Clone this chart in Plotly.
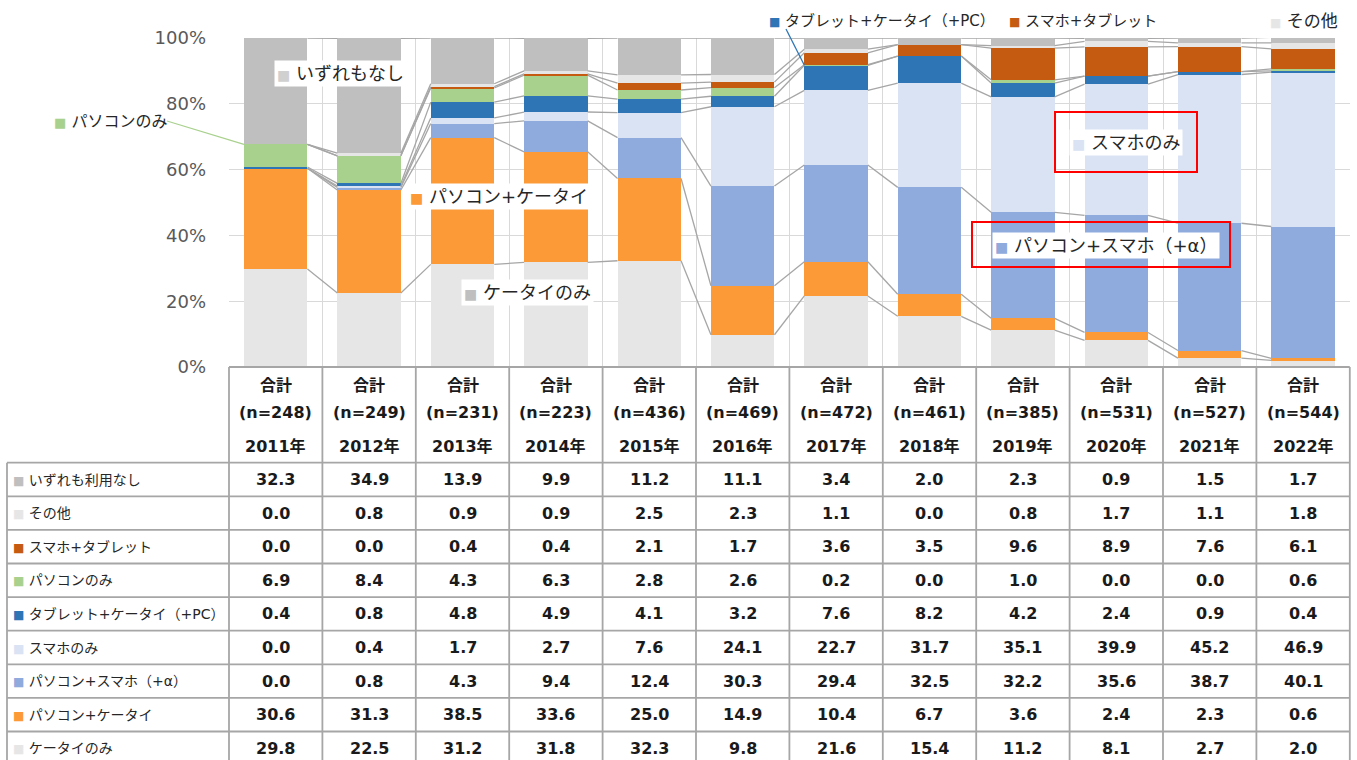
import plotly.graph_objects as go

# ---------------- data ----------------
years = ["2011年", "2012年", "2013年", "2014年", "2015年", "2016年",
         "2017年", "2018年", "2019年", "2020年", "2021年", "2022年"]
n_values = [248, 249, 231, 223, 436, 469, 472, 461, 385, 531, 527, 544]

none_used = [32.3, 34.9, 13.9, 9.9, 11.2, 11.1, 3.4, 2.0, 2.3, 0.9, 1.5, 1.7]
other = [0.0, 0.8, 0.9, 0.9, 2.5, 2.3, 1.1, 0.0, 0.8, 1.7, 1.1, 1.8]
smartphone_tablet = [0.0, 0.0, 0.4, 0.4, 2.1, 1.7, 3.6, 3.5, 9.6, 8.9, 7.6, 6.1]
pc_only = [6.9, 8.4, 4.3, 6.3, 2.8, 2.6, 0.2, 0.0, 1.0, 0.0, 0.0, 0.6]
tablet_mobile_pc = [0.4, 0.8, 4.8, 4.9, 4.1, 3.2, 7.6, 8.2, 4.2, 2.4, 0.9, 0.4]
smartphone_only = [0.0, 0.4, 1.7, 2.7, 7.6, 24.1, 22.7, 31.7, 35.1, 39.9, 45.2, 46.9]
pc_smartphone = [0.0, 0.8, 4.3, 9.4, 12.4, 30.3, 29.4, 32.5, 32.2, 35.6, 38.7, 40.1]
pc_mobile = [30.6, 31.3, 38.5, 33.6, 25.0, 14.9, 10.4, 6.7, 3.6, 2.4, 2.3, 0.6]
mobile_only = [29.8, 22.5, 31.2, 31.8, 32.3, 9.8, 21.6, 15.4, 11.2, 8.1, 2.7, 2.0]

# stacking order: bottom -> top
series = [
    ("ケータイのみ", mobile_only, "#e7e6e6"),
    ("パソコン+ケータイ", pc_mobile, "#fd9a38"),
    ("パソコン+スマホ（+α）", pc_smartphone, "#8faadc"),
    ("スマホのみ", smartphone_only, "#dae3f3"),
    ("タブレット+ケータイ（+PC）", tablet_mobile_pc, "#2e75b6"),
    ("パソコンのみ", pc_only, "#a9d18e"),
    ("スマホ+タブレット", smartphone_tablet, "#c55a11"),
    ("その他", other, "#e7e6e6"),
    ("いずれも利用なし", none_used, "#bfbfbf"),
]
# table rows: top -> bottom
table_rows = list(reversed(series))

# ---------------- layout helpers ----------------
W, H = 1357, 760
X0, CW = 229.0, 93.4          # plot left edge (px), column width (px)
Y0, YS = 367.0, 3.29          # 0% baseline (px), px per percent
NCOL = len(years)
BAR_W = 0.68

FONT = "DejaVu Sans, Noto Sans CJK JP"
LINE_C = "#a6a6a6"


def px_x(px):
    return px / W


def px_y(py):
    return 1 - py / H


def col_x(i):
    return px_x(X0 + (i + 0.5) * CW)


def dat_x(x):
    return px_x(X0 + (x + 0.5) * CW)


def dat_y(v):
    return px_y(Y0 - v * YS)


def sq(color, size=12):
    return f'<span style="color:{color};font-size:{size}px">■</span> '


fig = go.Figure()

xs = list(range(NCOL))
cum = [0.0] * NCOL
tops = []
for name, vals, color in series:
    fig.add_trace(go.Bar(
        x=xs, y=vals, name=name, width=BAR_W,
        marker=dict(color=color, line=dict(width=0)),
        showlegend=False, hoverinfo="name+y",
    ))
    cum = [c + v for c, v in zip(cum, vals)]
    tops.append(list(cum))

# series lines between bars
for t in tops:
    lx, ly = [], []
    for i in range(NCOL - 1):
        lx += [i + BAR_W / 2, i + 1 - BAR_W / 2, None]
        ly += [t[i], t[i + 1], None]
    fig.add_trace(go.Scatter(x=lx, y=ly, mode="lines",
                             line=dict(color=LINE_C, width=1.3),
                             showlegend=False, hoverinfo="skip"))

shapes = []
annotations = []

# ---------------- table ----------------
x_right = X0 + NCOL * CW
hdr_bottom = 462.7
row_h = 33.6
nrows = len(table_rows)

shapes.append(dict(type="line", xref="paper", yref="paper",
                   x0=px_x(X0), x1=px_x(x_right), y0=px_y(Y0), y1=px_y(Y0),
                   line=dict(color=LINE_C, width=1.8)))
for k in range(NCOL + 1):
    xx = px_x(X0 + k * CW)
    shapes.append(dict(type="line", xref="paper", yref="paper",
                       x0=xx, x1=xx, y0=px_y(Y0), y1=px_y(hdr_bottom + row_h * nrows),
                       line=dict(color=LINE_C, width=1.8)))
shapes.append(dict(type="line", xref="paper", yref="paper",
                   x0=px_x(7), x1=px_x(7), y0=px_y(hdr_bottom),
                   y1=px_y(hdr_bottom + row_h * nrows),
                   line=dict(color=LINE_C, width=1.8)))
for r in range(nrows + 1):
    yy = px_y(hdr_bottom + r * row_h)
    shapes.append(dict(type="line", xref="paper", yref="paper",
                       x0=px_x(7), x1=px_x(x_right), y0=yy, y1=yy,
                       line=dict(color=LINE_C, width=1.8)))

hdr_font = dict(family=FONT, size=16, color="#1a1a1a")
for i in range(NCOL):
    for txt, py in (("合計", 385), (f"(n={n_values[i]})", 412), (years[i], 446)):
        annotations.append(dict(xref="paper", yref="paper", x=col_x(i), y=px_y(py),
                                text=f"<b>{txt}</b>", showarrow=False,
                                xanchor="center", yanchor="middle", font=hdr_font))

for r, (name, vals, color) in enumerate(table_rows):
    yc = px_y(hdr_bottom + (r + 0.5) * row_h)
    annotations.append(dict(xref="paper", yref="paper", x=px_x(11), y=yc,
                            text=sq(color, 12) + name, showarrow=False,
                            xanchor="left", yanchor="middle",
                            font=dict(family=FONT, size=14, color="#262626")))
    for i in range(NCOL):
        annotations.append(dict(xref="paper", yref="paper", x=col_x(i), y=yc,
                                text=f"<b>{vals[i]:.1f}</b>", showarrow=False,
                                xanchor="center", yanchor="middle",
                                font=dict(family=FONT, size=16, color="#1a1a1a")))

# ---------------- in-chart labels ----------------
lab_font = dict(family=FONT, size=18, color="#262626")
boxed = [
    ("いずれもなし", "#d0d0d0", 340, 74),
    ("パソコン+ケータイ", "#fd9a38", 499, 197),
    ("ケータイのみ", "#bfbfbf", 527, 292),
    ("スマホのみ", "#dae3f3", 1126, 143),
    ("パソコン+スマホ（+α）", "#8faadc", 1106, 245),
]
for txt, c, cx, cy in boxed:
    annotations.append(dict(xref="paper", yref="paper", x=px_x(cx), y=px_y(cy),
                            text=sq(c, 14) + txt, showarrow=False,
                            xanchor="center", yanchor="middle",
                            bgcolor="white", borderpad=2, font=lab_font))

annotations.append(dict(xref="paper", yref="paper", x=px_x(52), y=px_y(122),
                        text=sq("#a9d18e", 13) + "パソコンのみ", showarrow=False,
                        xanchor="left", yanchor="middle",
                        font=dict(family=FONT, size=16, color="#262626")))

top_labels = [
    ("タブレット+ケータイ（+PC）", "#2e75b6", 767, 15),
    ("スマホ+タブレット", "#c55a11", 1007, 15),
    ("その他", "#e7e6e6", 1268, 17),
]
for txt, c, lx, fs in top_labels:
    annotations.append(dict(xref="paper", yref="paper", x=px_x(lx), y=px_y(21),
                            text=sq(c, 12) + txt, showarrow=False,
                            xanchor="left", yanchor="middle",
                            font=dict(family=FONT, size=fs, color="#262626")))

# red highlight boxes
for x0, y0, x1, y1 in ((1055, 112, 1197, 172), (972, 222, 1230, 267)):
    shapes.append(dict(type="rect", xref="paper", yref="paper",
                       x0=px_x(x0), x1=px_x(x1), y0=px_y(y0), y1=px_y(y1),
                       line=dict(color="#ff0000", width=2), fillcolor="rgba(0,0,0,0)"))

# leader lines
green_top = tops[5][0]
shapes.append(dict(type="line", xref="paper", yref="paper",
                   x0=px_x(167), y0=px_y(121),
                   x1=dat_x(0 - BAR_W / 2), y1=dat_y(green_top),
                   line=dict(color="#a9d18e", width=1.3)))
blue_top = tops[4][6]
shapes.append(dict(type="line", xref="paper", yref="paper",
                   x0=px_x(786), y0=px_y(29),
                   x1=dat_x(6 - BAR_W / 2), y1=dat_y(blue_top),
                   line=dict(color="#2e75b6", width=1.3)))

fig.update_layout(
    width=W, height=H,
    autosize=False,
    margin=dict(l=0, r=0, t=0, b=0, pad=0, autoexpand=False),
    paper_bgcolor="white", plot_bgcolor="white",
    barmode="stack", bargap=0,
    showlegend=False,
    shapes=shapes, annotations=annotations,
    xaxis=dict(domain=[px_x(X0), px_x(x_right)], range=[-0.5, NCOL - 0.5],
               tickvals=[k - 0.5 for k in range(NCOL + 1)],
               showticklabels=False, ticks="", showgrid=True, automargin=False,
               gridcolor="#d9d9d9", gridwidth=1, zeroline=False, showline=False),
    yaxis=dict(domain=[px_y(Y0), px_y(Y0 - 100 * YS)], range=[0, 100],
               tickvals=[0, 20, 40, 60, 80, 100],
               ticktext=["0%", "20%", "40%", "60%", "80%", "100%"],
               tickfont=dict(family=FONT, size=18, color="#595959"),
               ticks="", ticklabelstandoff=22, automargin=False,
               showgrid=True, gridcolor="#d9d9d9", gridwidth=1,
               zeroline=False, showline=False),
)

fig.write_html(
    "out.html",
    config={"responsive": False, "displayModeBar": False},
    post_script=("document.documentElement.style.margin='0';"
                 "document.body.style.margin='0';"
                 "document.body.style.overflow='hidden';"
                 "document.documentElement.style.overflow='hidden';"),
)
